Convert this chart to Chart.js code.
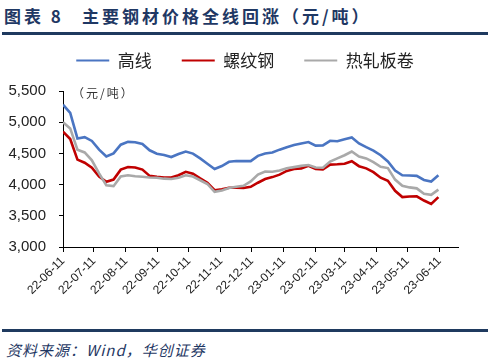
<!DOCTYPE html>
<html>
<head>
<meta charset="utf-8">
<script src="https://cdn.jsdelivr.net/npm/chart.js@4"></script>
<style>
  body { margin: 0; width: 488px; height: 363px; background: #fff; position: relative; overflow: hidden; font-family: "Noto Sans CJK SC", sans-serif; }
  .title { position: absolute; left: 4px; top: 3px; font-size: 17px; font-weight: bold; color: #1f3864; letter-spacing: 3px; white-space: nowrap; }
  .rule { position: absolute; left: 2px; right: 0; height: 3px; background: #1f3a5f; }
  .unit { position: absolute; left: 72px; top: 84px; font-size: 12px; color: #333; letter-spacing: 2px; }
  .source { position: absolute; left: 6px; top: 339px; font-size: 15px; font-style: italic; color: #1f3864; letter-spacing: 1px; white-space: nowrap; }
  #wrap { position: absolute; left: 0; top: 22px; width: 488px; height: 280px; }
</style>
</head>
<body>
<div class="title"><span>图表 8</span><span style="margin-left:18px">主要钢材价格全线回涨（元/吨）</span></div>
<div class="rule" style="top:32px"></div>
<div id="wrap"><canvas id="chart"></canvas></div>
<div class="unit">（元/吨）</div>
<div class="rule" style="top:329px"></div>
<div class="source">资料来源：Wind，华创证券</div>

<script>
// 周度日期
const semanas = [
  '2022-06-11','2022-06-18','2022-06-25','2022-07-02','2022-07-09','2022-07-16','2022-07-23','2022-07-30',
  '2022-08-06','2022-08-13','2022-08-20','2022-08-27','2022-09-03','2022-09-10','2022-09-17','2022-09-24',
  '2022-10-01','2022-10-08','2022-10-15','2022-10-22','2022-10-29','2022-11-05','2022-11-12','2022-11-19',
  '2022-11-26','2022-12-03','2022-12-10','2022-12-17','2022-12-24','2022-12-31','2023-01-07','2023-01-14',
  '2023-01-21','2023-01-28','2023-02-04','2023-02-11','2023-02-18','2023-02-25','2023-03-04','2023-03-11',
  '2023-03-18','2023-03-25','2023-04-01','2023-04-08','2023-04-15','2023-04-22','2023-04-29','2023-05-06',
  '2023-05-13','2023-05-20','2023-05-27','2023-06-03','2023-06-10'
];

// 高线
const gaoxian = [
  5280, 5150, 4740, 4760, 4700, 4560, 4450, 4500, 4640, 4685, 4678, 4650, 4550, 4495, 4475, 4442,
  4490, 4530, 4497, 4420, 4335, 4250, 4298, 4365, 4377, 4377, 4377, 4460, 4500, 4515, 4560, 4600,
  4634, 4660, 4682, 4625, 4628, 4702, 4695, 4725, 4755, 4660, 4600, 4545, 4470, 4370, 4225, 4150,
  4145, 4140, 4075, 4050, 4150
];

// 螺纹钢
const luowengang = [
  4850, 4730, 4400, 4350, 4270, 4130, 4045, 4080, 4240, 4282, 4275, 4240, 4140, 4125, 4113, 4113,
  4150, 4205, 4175, 4100, 4030, 3910, 3925, 3950, 3950, 3945, 3965, 4030, 4090, 4120, 4160, 4220,
  4250, 4260, 4300, 4250, 4245, 4320, 4325, 4335, 4375, 4295, 4260, 4200, 4110, 4060, 3900, 3800,
  3810, 3812, 3745, 3690, 3800
];

// 热轧板卷
const rezha = [
  5000, 4900, 4560, 4515, 4390, 4180, 3990, 3975, 4130, 4150, 4135, 4125, 4115, 4110, 4095, 4090,
  4110, 4150, 4130, 4070, 4010, 3885, 3905, 3945, 3965, 3980, 4050, 4160, 4210, 4205, 4225, 4262,
  4280, 4300, 4314, 4275, 4271, 4370, 4420, 4470, 4530, 4450, 4420, 4360, 4285, 4265, 4080, 3980,
  3955, 3940, 3852, 3835, 3920
];

// 横轴刻度
const etiquetasX = [
  '22-06-11','22-07-11','22-08-11','22-09-11','22-10-11','22-11-11','22-12-11',
  '23-01-11','23-02-11','23-03-11','23-04-11','23-05-11','23-06-11'
];

const DIA = 86400000;
const inicio = Date.parse('2022-06-11');
const aDia = s => (Date.parse(s) - inicio) / DIA;
const diasX = semanas.map(aDia);
const diasTicks = etiquetasX.map(e => aDia('20' + e));

const serie = vals => vals.map((v, i) => ({ x: diasX[i], y: v }));

// 图例下方多留一点空白，并整体右移到画布中间
const espacioLeyenda = {
  id: 'espacioLeyenda',
  beforeInit(chart) {
    const leyenda = chart.legend;
    const fitOrig = leyenda.fit;
    const drawOrig = leyenda.draw;
    leyenda.fit = function () {
      fitOrig.call(this);
      this.height += 12;
    };
    leyenda.draw = function () {
      const ctx = this.ctx;
      ctx.save();
      ctx.translate(16, 0);
      drawOrig.call(this);
      ctx.restore();
    };
  }
};

new Chart(document.getElementById('chart'), {
  type: 'line',
  data: {
    datasets: [
      { label: '高线', data: serie(gaoxian), borderColor: '#4a75c2', backgroundColor: '#4a75c2', order: 3 },
      { label: '螺纹钢', data: serie(luowengang), borderColor: '#c00000', backgroundColor: '#c00000', order: 2 },
      { label: '热轧板卷', data: serie(rezha), borderColor: '#a9a9a9', backgroundColor: '#a9a9a9', order: 1 }
    ]
  },
  plugins: [espacioLeyenda],
  options: {
    responsive: true,
    maintainAspectRatio: false,
    animation: false,
    layout: { padding: { right: 30 } },
    elements: {
      line: { borderWidth: 2.6, tension: 0 },
      point: { radius: 0 }
    },
    plugins: {
      tooltip: { enabled: false },
      legend: {
        position: 'top',
        labels: {
          boxWidth: 33,
          boxHeight: 2,
          padding: 30,
          color: '#222',
          font: { family: '"Noto Sans CJK SC", sans-serif', size: 17 },
          sort: (a, b) => a.datasetIndex - b.datasetIndex,
          generateLabels: chart => Chart.defaults.plugins.legend.labels.generateLabels(chart)
            .map(it => ({ ...it, lineWidth: 0 }))
        }
      }
    },
    scales: {
      x: {
        type: 'linear',
        min: 0,
        max: 383,
        afterBuildTicks: axis => { axis.ticks = diasTicks.map(v => ({ value: v })); },
        afterFit: s => { s.height = 55; },
        grid: { drawOnChartArea: false, tickLength: 5, color: '#000' },
        border: { color: '#000', width: 1 },
        ticks: {
          autoSkip: false,
          minRotation: 45,
          maxRotation: 45,
          padding: 2,
          color: '#222',
          font: { family: '"Liberation Sans", Arial, sans-serif', size: 12 },
          callback: v => {
            const i = diasTicks.indexOf(v);
            return i >= 0 ? etiquetasX[i] : '';
          }
        }
      },
      y: {
        min: 3000,
        max: 5500,
        afterFit: s => { s.width = 63; },
        grid: { drawOnChartArea: false, tickLength: 4, color: '#000' },
        border: { color: '#000', width: 1 },
        ticks: {
          stepSize: 500,
          padding: 13,
          color: '#222',
          font: { family: '"Liberation Sans", Arial, sans-serif', size: 15 },
          callback: v => v.toLocaleString('en-US')
        }
      }
    }
  }
});
</script>
</body>
</html>
